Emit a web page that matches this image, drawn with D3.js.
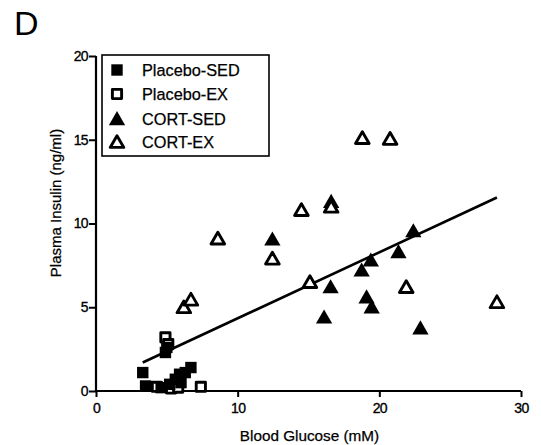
<!DOCTYPE html>
<html><head><meta charset="utf-8">
<script src="https://cdn.jsdelivr.net/npm/d3@7"></script>
<style>body{margin:0;background:#fff}svg{display:block}text{font-family:"Liberation Sans",Arial,sans-serif;fill:#000}</style>
</head><body><div id="c"></div>
<script>
const xTicks = [0, 10, 20, 30];
const yTicks = [0, 5, 10, 15, 20];
const seriesNames = ["Placebo-SED", "Placebo-EX", "CORT-SED", "CORT-EX"];
const placeboSED = [[3.3,1.1],[3.5,0.3],[4.9,2.3],[5.0,2.6],[5.2,0.4],[5.6,0.7],[5.9,1.0],[6.3,1.1],[6.7,1.4],[6.0,0.5],[4.6,0.2]];
const placeboEX = [[4.9,3.2],[5.1,2.8],[4.3,0.25],[5.3,0.15],[5.8,0.2],[7.4,0.25]];
const cortSED = [[12.45,9.05],[16.56,6.2],[16.1,4.4],[16.6,11.3],[22.4,9.55],[21.35,8.3],[19.4,7.8],[18.75,7.2],[19.1,5.6],[19.46,5.0],[22.9,3.75]];
const cortEX = [[6.2,5.0],[6.7,5.45],[8.6,9.1],[12.45,7.9],[14.5,10.8],[16.6,11.0],[15.1,6.5],[18.8,15.1],[20.76,15.05],[21.9,6.2],[28.3,5.3]];
const fitX = [3.3, 28.3];
const fitY = [1.7, 11.55];

const W = 541, H = 445;
const svg = d3.select("#c").append("svg").attr("width", W).attr("height", H);
const x = d3.scaleLinear().domain([0, 30]).range([96, 521]);
const y = d3.scaleLinear().domain([0, 20]).range([391, 56]);

svg.append("text").attr("x", 14).attr("y", 35).attr("font-size", 34).text("D");

const ax = svg.append("g").attr("transform", "translate(0,391)")
  .call(d3.axisBottom(x).tickValues(xTicks).tickSize(6).tickPadding(6));
const ay = svg.append("g").attr("transform", "translate(96,0)")
  .call(d3.axisLeft(y).tickValues(yTicks).tickSize(7).tickPadding(1));
[ax, ay].forEach(g => {
  g.select(".domain").attr("stroke", "#000").attr("stroke-width", 2.2);
  g.selectAll(".tick line").attr("stroke", "#000").attr("stroke-width", 2);
  g.selectAll(".tick text").attr("font-size", 14).attr("font-family", "Liberation Sans, Arial, sans-serif")
    .attr("fill", "#000").attr("stroke", "#000").attr("stroke-width", 0.35).style("letter-spacing", "-0.6px");
});
ax.select(".domain").attr("d", `M${x(0)},0H${x(30)}`);
ay.select(".domain").attr("d", `M0,${y(0)}V${y(20)}`);

svg.append("text").attr("x", (x(0) + x(30)) / 2 + 1).attr("y", 441).attr("text-anchor", "middle")
  .attr("font-size", 15.3).attr("stroke", "#000").attr("stroke-width", 0.25).text("Blood Glucose (mM)");
svg.append("text").attr("transform", `translate(61,203) rotate(-90)`).attr("text-anchor", "middle")
  .attr("font-size", 15).attr("stroke", "#000").attr("stroke-width", 0.25).text("Plasma Insulin (ng/ml)");

svg.append("line").attr("x1", x(fitX[0])).attr("y1", y(fitY[0])).attr("x2", x(fitX[1])).attr("y2", y(fitY[1]))
  .attr("stroke", "#000").attr("stroke-width", 2.6);

const sq = d3.symbol().type(d3.symbolSquare);
const tri = d3.symbol().type(d3.symbolTriangle);
function symFor(kind, filled) {
  return kind === "sq" ? sq.size(filled ? 130 : 85)() : tri.size(filled ? 115 : 80)();
}
function draw(data, kind, filled) {
  const p = symFor(kind, filled);
  svg.append("g").selectAll("path").data(data).join("path")
    .attr("transform", d => `translate(${x(d[0])},${y(d[1]) + (kind === "tri" ? 1.5 : 0)})`)
    .attr("d", p)
    .attr("fill", filled ? "#000" : "#fff")
    .attr("stroke", "#000").attr("stroke-width", filled ? 0 : 2.9).attr("stroke-linejoin", "round");
}
draw(placeboEX, "sq", false);
draw(placeboSED, "sq", true);
draw(cortSED, "tri", true);
draw(cortEX, "tri", false);

const lg = svg.append("g");
lg.append("rect").attr("x", 102).attr("y", 55).attr("width", 167).attr("height", 101)
  .attr("fill", "#fff").attr("stroke", "#000").attr("stroke-width", 1.6);
const rows = [70, 94, 119, 142];
const kinds = [["sq", true], ["sq", false], ["tri", true], ["tri", false]];
seriesNames.forEach((n, i) => {
  const [k, f] = kinds[i];
  lg.append("path").attr("transform", `translate(117,${rows[i] + (k === "tri" ? 1.5 : 0)})`).attr("d", symFor(k, f))
    .attr("fill", f ? "#000" : "#fff").attr("stroke", "#000").attr("stroke-width", f ? 0 : 2.9).attr("stroke-linejoin", "round");
  lg.append("text").attr("x", 142).attr("y", rows[i] + 6).attr("font-size", 16.3)
    .attr("stroke", "#000").attr("stroke-width", 0.25).text(n);
});
</script></body></html>
